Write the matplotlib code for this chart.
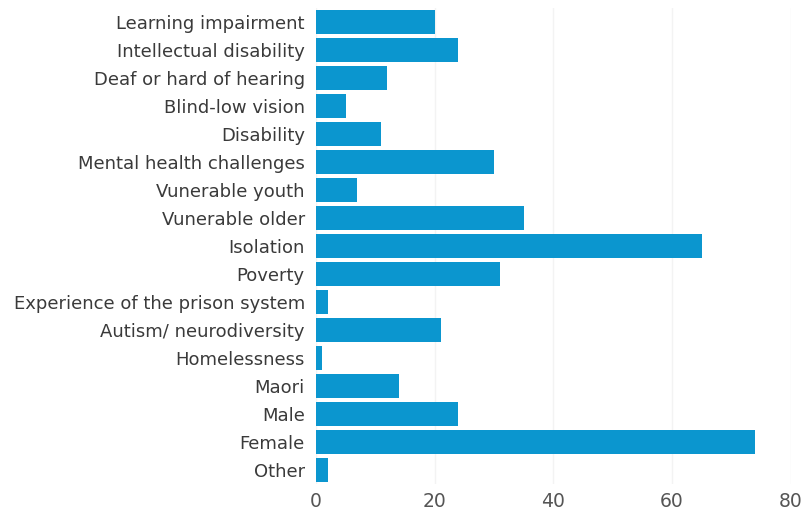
import matplotlib
matplotlib.use("Agg")
import matplotlib.pyplot as plt

categories = ["Learning impairment", "Intellectual disability", "Deaf or hard of hearing",
              "Blind-low vision", "Disability", "Mental health challenges", "Vunerable youth",
              "Vunerable older", "Isolation", "Poverty", "Experience of the prison system",
              "Autism/ neurodiversity", "Homelessness", "Maori", "Male", "Female", "Other"]
values = [20, 24, 12, 5, 11, 30, 7, 35, 65, 31, 2, 21, 1, 14, 24, 74, 2]
xticks = [0, 20, 40, 60, 80]

plt.rcParams['font.family'] = ['DejaVu Sans']

fig = plt.figure(figsize=(8.06, 5.11), dpi=100)
ax = fig.add_axes([0.392, 0.053, 0.589, 0.931])
y = list(range(len(categories)))
ax.barh(y, values, height=0.88, color="#0b96cf", zorder=2)
ax.set_ylim(len(categories) - 0.5, -0.5)
ax.set_xlim(0, 80)
ax.set_xticks(xticks)
ax.set_yticks(y)
ax.set_yticklabels(categories, fontsize=13, color="#3a3a3a")
ax.tick_params(axis='x', labelsize=13.5, colors="#555555", length=0, pad=6)
ax.tick_params(axis='y', length=0, pad=8)
for s in ax.spines.values():
    s.set_visible(False)
ax.grid(axis='x', color="#f3f3f3", linewidth=1, zorder=0)
fig.savefig("out.png", dpi=100)
